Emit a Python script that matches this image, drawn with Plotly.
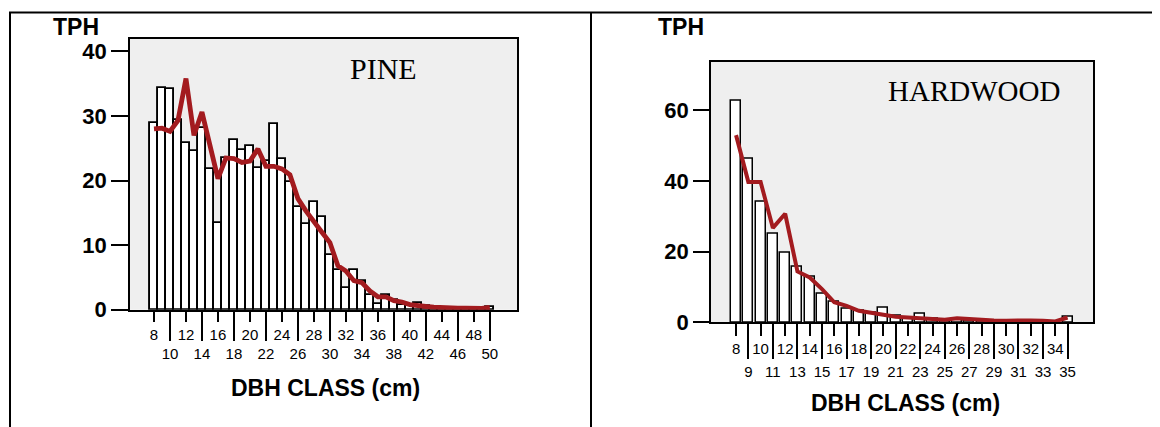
import plotly.graph_objects as go

W, H = 1160, 427
OFF = 8        # page body margin in the browser
H_EFF = 413    # effective drawn height observed in the browser

# ---------------- data ----------------
pine_dbh = list(range(8, 51))
pine_bars = [28.9, 34.3, 34.1, 29.3, 25.8, 24.5, 28.1, 21.8, 13.4, 23.5,
             26.3, 24.7, 25.4, 21.9, 23.0, 28.7, 23.3, 19.7, 15.9, 13.3,
             16.7, 14.3, 8.5, 6.2, 3.3, 6.2, 4.5, 2.2, 0.9, 2.2,
             1.5, 0.7, 0.6, 1.0, 0.5, 0.3, 0.3, 0.2, 0.2, 0.2,
             0.2, 0.1, 0.4]
pine_line = [28.0, 28.1, 27.6, 29.3, 35.8, 27.0, 30.6, 25.7, 20.3, 23.5,
             23.4, 22.8, 23.0, 24.9, 22.2, 22.2, 21.8, 20.9, 17.2, 15.3,
             13.5, 12.0, 10.4, 6.8, 6.0, 4.5, 4.2, 2.9, 2.0, 2.0,
             1.4, 1.2, 0.8, 0.6, 0.5, 0.4, 0.3, 0.3, 0.25, 0.25,
             0.2, 0.2, 0.35]

hw_dbh = list(range(8, 36))
hw_bars = [62.6, 46.1, 34.0, 24.9, 19.7, 15.6, 13.0, 8.0, 5.9, 3.8,
           3.3, 2.6, 4.0, 1.9, 1.0, 2.4, 0.9, 0.6, 0.9, 0.5,
           0.6, 0.4, 0.3, 0.4, 0.3, 0.2, 0.3, 1.7]
hw_line = [52.9, 39.7, 39.7, 26.7, 30.7, 14.4, 12.7, 9.4, 5.7, 4.7,
           3.3, 2.8, 2.2, 1.6, 1.4, 1.2, 0.9, 0.75, 1.2, 0.9,
           0.75, 0.55, 0.5, 0.65, 0.55, 0.5, 0.3, 1.4]

pine_y_ticks = [0, 10, 20, 30, 40]
hw_y_ticks = [0, 20, 40, 60]
pine_row1 = list(range(8, 50, 4))     # 8,12,...,48
pine_row2 = list(range(10, 51, 4))    # 10,14,...,50
hw_row1 = list(range(8, 35, 2))       # 8,10,...,34
hw_row2 = list(range(9, 36, 2))       # 9,11,...,35

RED = "#A31B1F"
SANS = "Liberation Sans, Arial, sans-serif"
SERIF = "Liberation Serif, Times New Roman, serif"


def px(x):
    return (x - OFF) / W


def py(y):
    return 1 - (y - OFF) / H_EFF


fig = go.Figure()

# Pine
fig.add_trace(go.Bar(x=pine_dbh, y=pine_bars, width=1.0,
                     marker=dict(color="white", line=dict(color="black", width=1.9)),
                     xaxis="x", yaxis="y", showlegend=False))
fig.add_trace(go.Scatter(x=pine_dbh, y=pine_line, mode="lines",
                         line=dict(color=RED, width=4.8),
                         xaxis="x", yaxis="y", showlegend=False))
# Hardwood
fig.add_trace(go.Bar(x=hw_dbh, y=hw_bars, width=0.82,
                     marker=dict(color="white", line=dict(color="black", width=1.5)),
                     xaxis="x2", yaxis="y2", showlegend=False))
fig.add_trace(go.Scatter(x=hw_dbh, y=hw_line, mode="lines",
                         line=dict(color=RED, width=4),
                         xaxis="x2", yaxis="y2", showlegend=False))

pine_xrange = [5.0, 53.4]
hw_xrange = [5.96, 37.07]
dom_x1 = [px(130), px(517)]
dom_y1 = [py(309), py(39)]
dom_x2 = [px(711), px(1093)]
dom_y2 = [py(321.7), py(61.7)]

tick_font = dict(family=SANS, size=15, color="black")
ytick_font = dict(family=SANS, size=22, color="black", weight="bold")

common_x = dict(showgrid=False, zeroline=False, ticks="outside",
                tickcolor="black", tickwidth=2, tickfont=tick_font)

fig.update_layout(
    width=W, height=H,
    margin=dict(l=0, r=0, t=0, b=0),
    paper_bgcolor="white", plot_bgcolor="#EFEFEF",
    bargap=0,
    xaxis=dict(common_x, domain=dom_x1, range=pine_xrange, anchor="y",
               tickvals=pine_row2, ticktext=[str(v) for v in pine_row2],
               ticklen=30, showline=True, mirror=True, linecolor="black", linewidth=1.5),
    xaxis3=dict(common_x, domain=dom_x1, range=pine_xrange, anchor="y",
                overlaying="x", side="bottom",
                tickvals=pine_row1, ticktext=[str(v) for v in pine_row1],
                ticklen=11, showline=False),
    yaxis=dict(domain=dom_y1, range=[0, 41.9], anchor="x",
               tickvals=pine_y_ticks, ticks="outside", ticklen=17, tickwidth=2,
               tickcolor="black", tickfont=ytick_font,
               showgrid=False, zeroline=False, showline=True, mirror=True,
               linecolor="black", linewidth=1.5),
    xaxis2=dict(common_x, domain=dom_x2, range=hw_xrange, anchor="y2",
                tickvals=hw_row2, ticktext=[str(v) for v in hw_row2],
                ticklen=35, showline=True, mirror=True, linecolor="black", linewidth=1.5),
    xaxis4=dict(common_x, domain=dom_x2, range=hw_xrange, anchor="y2",
                overlaying="x2", side="bottom",
                tickvals=hw_row1, ticktext=[str(v) for v in hw_row1],
                ticklen=13, showline=False),
    yaxis2=dict(domain=dom_y2, range=[0, 73.6], anchor="x2",
                tickvals=hw_y_ticks, ticks="outside", ticklen=16, tickwidth=2,
                tickcolor="black", tickfont=ytick_font,
                showgrid=False, zeroline=False, showline=True, mirror=True,
                linecolor="black", linewidth=1.5),
)

# invisible traces so overlay axes render
fig.add_trace(go.Scatter(x=[pine_dbh[0]], y=[0], mode="markers", marker=dict(opacity=0),
                         xaxis="x3", yaxis="y", showlegend=False, hoverinfo="skip"))
fig.add_trace(go.Scatter(x=[hw_dbh[0]], y=[0], mode="markers", marker=dict(opacity=0),
                         xaxis="x4", yaxis="y2", showlegend=False, hoverinfo="skip"))

# frame lines
frame = dict(color="black", width=2)
fig.add_shape(type="line", xref="paper", yref="paper", x0=px(9), x1=1, y0=py(12.5), y1=py(12.5), line=frame)
fig.add_shape(type="line", xref="paper", yref="paper", x0=px(10), x1=px(10), y0=py(12.5), y1=py(440), line=frame)
fig.add_shape(type="line", xref="paper", yref="paper", x0=px(591), x1=px(591), y0=py(12.5), y1=py(440), line=frame)


def ann(text, x, y, size, bold=True, family=SANS):
    fig.add_annotation(text=f"<b>{text}</b>" if bold else text,
                       x=px(x), y=py(y), xref="paper", yref="paper",
                       showarrow=False, xanchor="center", yanchor="middle",
                       font=dict(family=family, size=size, color="black"))


ann("TPH", 76, 27, 23)
ann("TPH", 681, 27, 23)
ann("PINE", 383, 68, 30, bold=False, family=SERIF)
ann("HARDWOOD", 974, 91, 29, bold=False, family=SERIF)
ann("DBH CLASS (cm)", 325, 387, 23)
ann("DBH CLASS (cm)", 905, 402, 23)

fig.write_html("out.html")
